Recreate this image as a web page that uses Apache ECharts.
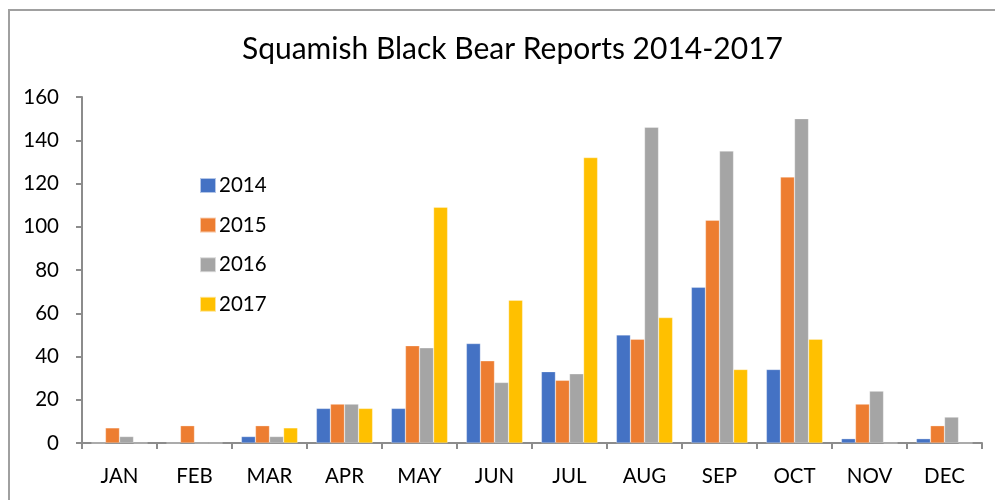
<!DOCTYPE html>
<html>
<head>
<meta charset="utf-8">
<script src="https://cdn.jsdelivr.net/npm/echarts@6/dist/echarts.min.js"></script>
<style>
  html, body { margin: 0; padding: 0; background: #fff; }
  #chart { width: 995px; height: 500px; }
</style>
</head>
<body>
<div id="chart"></div>
<script>
// Monthly black bear reports, Squamish, 2014-2017
const months = ['JAN', 'FEB', 'MAR', 'APR', 'MAY', 'JUN', 'JUL', 'AUG', 'SEP', 'OCT', 'NOV', 'DEC'];
const years = ['2014', '2015', '2016', '2017'];
const reports2014 = [0, 0, 3, 16, 16, 46, 33, 50, 72, 34, 2, 2];
const reports2015 = [7, 8, 8, 18, 45, 38, 29, 48, 103, 123, 18, 8];
const reports2016 = [3, 0, 3, 18, 44, 28, 32, 146, 135, 150, 24, 12];
const reports2017 = [0, 0, 7, 16, 109, 66, 132, 58, 34, 48, 0, 0];
const yTicks = { min: 0, max: 160, interval: 20 };

const palette = ['#4472C4', '#ED7D31', '#A5A5A5', '#FFC000'];
const seriesValues = [reports2014, reports2015, reports2016, reports2017];
const font = 'Lato, "Open Sans", sans-serif';

const chart = echarts.init(document.getElementById('chart'), null, { renderer: 'canvas' });

chart.setOption({
  animation: false,
  backgroundColor: '#ffffff',
  color: palette,
  title: {
    text: 'Squamish Black Bear Reports 2014-2017',
    left: 237,
    top: 29,
    textStyle: { fontFamily: font, fontWeight: 'normal', fontSize: 30, color: '#000' }
  },
  graphic: [{
    type: 'rect',
    shape: { x: 9, y: 10, width: 1000, height: 500 },
    style: { fill: 'none', stroke: '#a0a0a0', lineWidth: 2 },
    silent: true
  }],
  legend: {
    orient: 'vertical',
    left: 194,
    top: 170,
    itemWidth: 16,
    itemHeight: 15,
    itemGap: 18.6,
    icon: 'rect',
    textStyle: { fontFamily: font, fontSize: 20.5, color: '#000', padding: [0, 0, 0, -2] },
    data: years
  },
  grid: { left: 82, right: 13, top: 97, bottom: 57 },
  xAxis: {
    type: 'category',
    data: months,
    axisLine: { lineStyle: { color: '#8c8c8c', width: 2 } },
    axisTick: { show: true, length: 6, lineStyle: { color: '#8c8c8c', width: 2 } },
    axisLabel: { fontFamily: font, fontSize: 20.5, color: '#000', margin: 23 }
  },
  yAxis: {
    type: 'value',
    min: yTicks.min,
    max: yTicks.max,
    interval: yTicks.interval,
    axisLine: { show: true, lineStyle: { color: '#8c8c8c', width: 2 } },
    axisTick: { show: true, length: 6, lineStyle: { color: '#8c8c8c', width: 2 } },
    splitLine: { show: false },
    axisLabel: { fontFamily: font, fontSize: 20.5, color: '#000', margin: 23 }
  },
  series: years.map((y, i) => ({
    name: y,
    type: 'bar',
    data: seriesValues[i],
    barGap: '0%',
    barCategoryGap: '25%',
    itemStyle: { color: palette[i], borderColor: 'rgba(255,255,255,0.6)', borderWidth: 0.5 }
  }))
});
</script>
</body>
</html>
